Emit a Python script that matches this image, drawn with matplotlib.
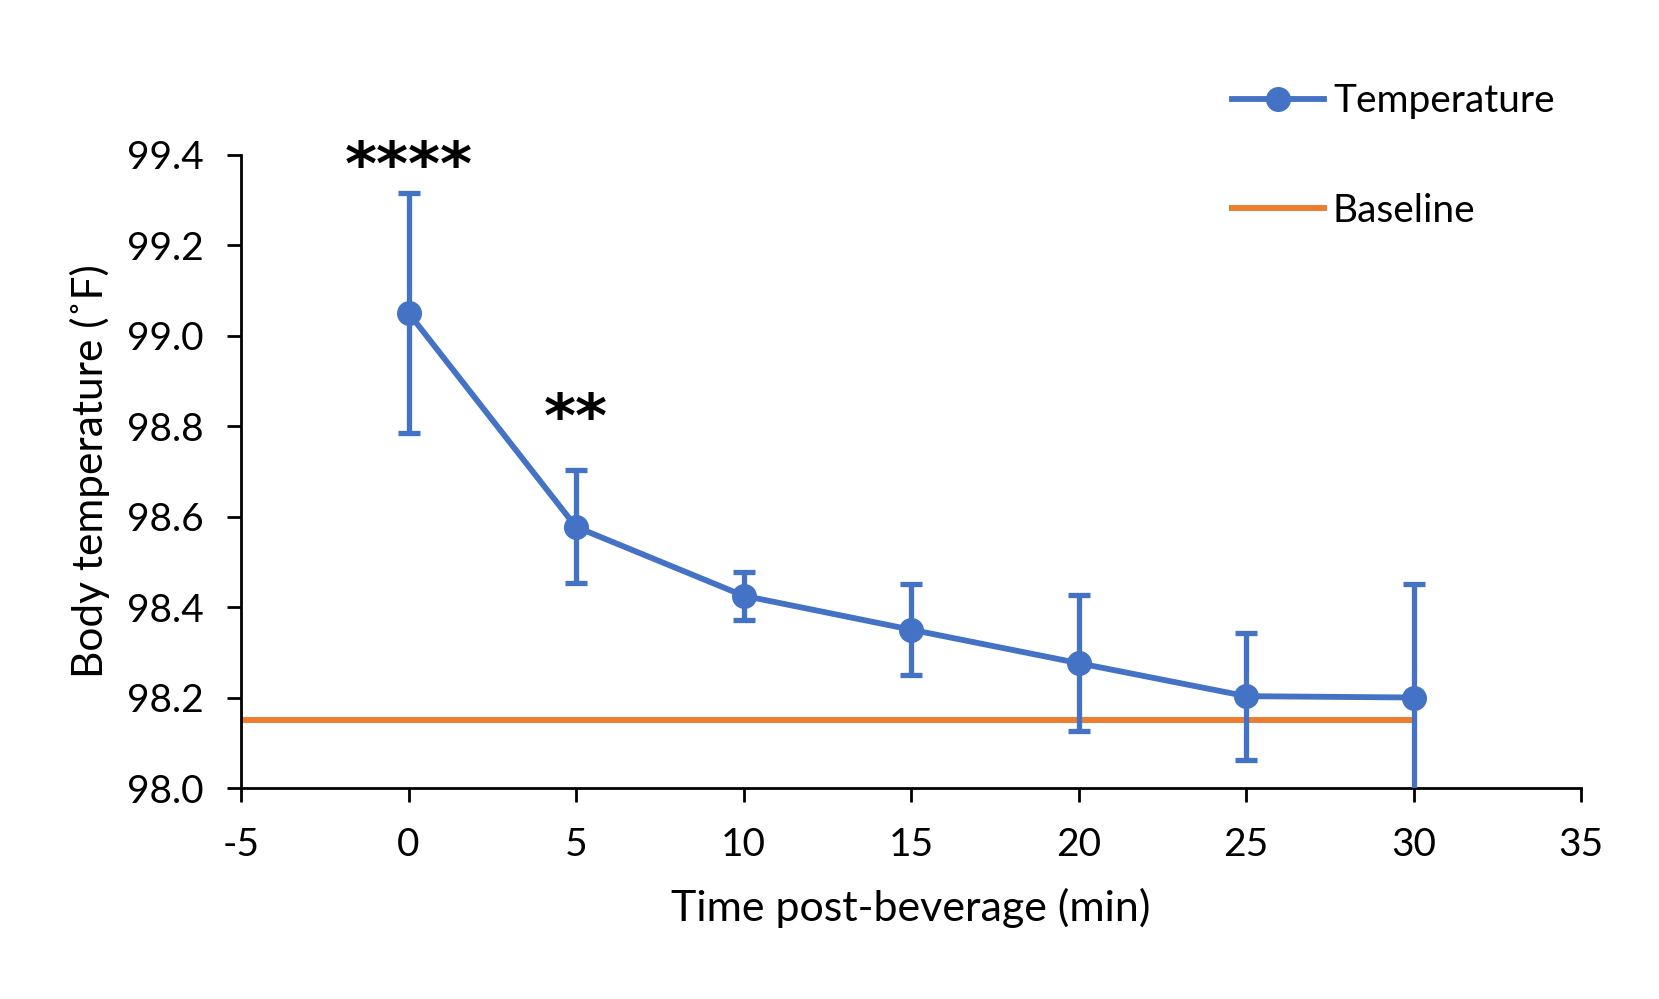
import matplotlib
matplotlib.use("Agg")
import matplotlib.pyplot as plt
from matplotlib.lines import Line2D

# Data
times = [0, 5, 10, 15, 20, 25, 30]
temps = [99.05, 98.577, 98.425, 98.35, 98.276, 98.203, 98.2]
errors = [0.265, 0.125, 0.053, 0.10, 0.15, 0.14, 0.25]
baseline_x = [-5, 30]
baseline_y = [98.15, 98.15]
star_labels = ["****", "**"]
star_x = [0, 5]
star_y = [99.37, 98.812]
yticks = [98.0, 98.2, 98.4, 98.6, 98.8, 99.0, 99.2, 99.4]
xticks = [-5, 0, 5, 10, 15, 20, 25, 30, 35]

BLUE = "#4472C4"
ORANGE = "#ED7D31"

plt.rcParams['font.family'] = ['Lato', 'DejaVu Sans']
plt.rcParams['axes.unicode_minus'] = False

fig = plt.figure(figsize=(16.59, 9.99), dpi=100)
ax = fig.add_axes([0.1453, 0.2112, 0.8077, 0.6341])

ax.plot(baseline_x, baseline_y, color=ORANGE, lw=4.3, zorder=2,
        solid_capstyle='butt')
ax.errorbar(times, temps, yerr=errors, color=BLUE, lw=4.2, marker='o', ms=17,
            capsize=8, capthick=3.8, elinewidth=3.8, zorder=3)

for s, x, y in zip(star_labels, star_x, star_y):
    ax.text(x, y, s, ha='center', va='center', fontsize=44, fontweight='bold',
            color='black', family='DejaVu Sans')

ax.set_xlim(-5, 35)
ax.set_ylim(98.0, 99.4)
ax.set_xticks(xticks)
ax.set_xticklabels([str(v) for v in xticks])
ax.set_yticks(yticks)
ax.set_yticklabels([f"{v:.1f}" for v in yticks])

for sp in ['top', 'right']:
    ax.spines[sp].set_visible(False)
for sp in ['left', 'bottom']:
    ax.spines[sp].set_linewidth(2)
    ax.spines[sp].set_color('black')
ax.tick_params(axis='both', direction='out', length=10, width=2, labelsize=28)
ax.tick_params(axis='x', pad=18)
ax.tick_params(axis='y', pad=17)

ax.set_xlabel("Time post-beverage (min)", fontsize=31, labelpad=18)
ax.set_ylabel("Body temperature (˚F)", fontsize=30.5, labelpad=12)

h_temp = Line2D([], [], color=BLUE, lw=4.2, marker='o', ms=17)
h_base = Line2D([], [], color=ORANGE, lw=4.3)
fig.legend([h_temp, h_base], ["Temperature", "Baseline"],
           loc='upper left', bbox_to_anchor=(0.731, 0.936), frameon=False,
           borderpad=0, fontsize=28, handlelength=2.37, labelspacing=1.89,
           handletextpad=0.22)

fig.savefig("out.png", dpi=100)
